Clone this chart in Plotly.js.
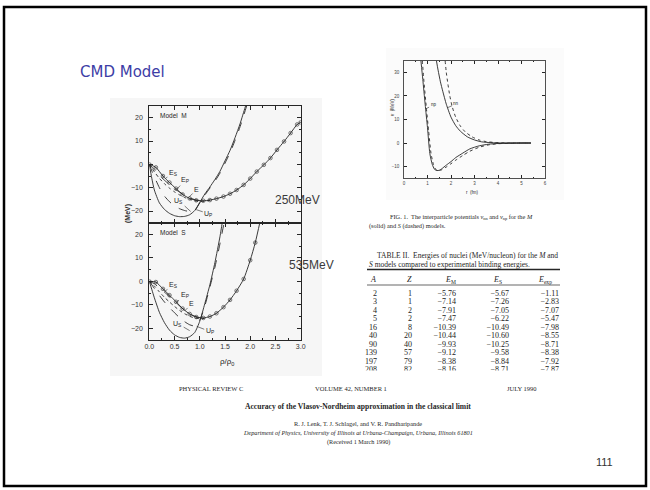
<!DOCTYPE html>
<html><head><meta charset="utf-8">
<script src="https://cdn.plot.ly/plotly-3.0.1.min.js"></script>
<style>body{margin:0;padding:0;background:#fff}#c{width:650px;height:490px}</style>
</head><body><div id="c"></div>
<script>
// ---------- Data: Model M (250 MeV) ----------
const rhoE_M = [0, 0.13, 0.27, 0.4, 0.53, 0.66, 0.8, 0.93, 1.07, 1.2, 1.33, 1.47, 1.6, 1.73, 1.87, 2.0, 2.13, 2.27, 2.4, 2.53, 2.67, 2.8, 2.93, 3.0];
const E_M     = [0, -1.3, -5.0, -7.8, -10.4, -12.9, -14.6, -15.4, -15.6, -15.3, -14.7, -13.8, -12.6, -11.0, -8.8, -6.1, -3.1, -0.2, 2.7, 6.2, 9.8, 13.4, 17.1, 18.0];
const rhoEa_M = [0, 0.1, 0.2, 0.3, 0.4, 0.5, 0.6, 0.7, 0.8, 0.9, 1.0, 1.1, 1.2];
const ES_M    = [0, -2.3, -4.7, -6.8, -8.7, -10.4, -11.9, -13.2, -14.3, -15.1, -15.5, -15.6, -15.3];
const EP_M    = [0, -3.2, -6.0, -8.3, -10.2, -11.8, -13.1, -14.2, -15.0, -15.6, -15.9, -15.8, -15.4];
const rhoU_M  = [0, 0.05, 0.1, 0.2, 0.3, 0.4, 0.5, 0.6, 0.7, 0.8, 0.9, 1.0, 1.1, 1.2, 1.3, 1.4, 1.5, 1.6, 1.7, 1.8, 1.9, 1.95];
const US_M    = [0, -6.0, -11.0, -16.5, -19.3, -21.0, -22.0, -22.4, -22.3, -21.6, -19.8, -16.3, -12.7, -9.7, -6.5, -3.0, 1.5, 6.0, 11.5, 17.5, 24.5, 28];
const UP_M    = [0, -2.8, -5.3, -10.0, -13.6, -16.0, -17.8, -19.0, -19.8, -20.2, -19.8, -16.5, -13.2, -10.2, -7.2, -3.8, 0.5, 5.0, 10.3, 16.2, 23.0, 26.5];
// ---------- Data: Model S (535 MeV) ----------
const rhoE_S  = [0, 0.13, 0.27, 0.4, 0.53, 0.66, 0.8, 0.93, 1.07, 1.2, 1.33, 1.47, 1.6, 1.73, 1.87, 2.0, 2.1, 2.2];
const E_S     = [0, -0.3, -3.2, -5.9, -8.7, -11.6, -13.9, -15.2, -15.6, -15.0, -13.6, -11.0, -7.9, -4.0, 1.0, 9.0, 16.5, 26];
const rhoEa_S = [0, 0.1, 0.2, 0.3, 0.4, 0.5, 0.6, 0.7, 0.8, 0.9, 1.0, 1.1];
const ES_S    = [0, -1.0, -2.8, -4.6, -6.5, -8.5, -10.5, -12.3, -13.8, -14.9, -15.5, -15.6];
const EP_S    = [0, -2.0, -4.5, -6.8, -8.8, -10.7, -12.4, -13.8, -14.9, -15.6, -15.9, -15.8];
const rhoU_S  = [0, 0.05, 0.1, 0.2, 0.3, 0.4, 0.5, 0.6, 0.7, 0.8, 0.9, 1.0, 1.1, 1.2, 1.3, 1.4, 1.45, 1.5];
const US_S    = [0, -3.5, -7.0, -13.2, -17.6, -20.8, -22.8, -23.9, -24.2, -23.6, -21.8, -17.0, -9.5, -1.5, 8.0, 19.0, 25.5, 30];
const UP_S    = [0, -1.5, -3.0, -6.0, -8.8, -11.2, -13.4, -15.5, -17.2, -18.5, -19.0, -16.5, -10.5, -2.5, 6.0, 16.0, 21.5, 27];
// ---------- Data: interparticle potentials ----------
const r_npM = [0.72, 0.8, 0.9, 1.0, 1.1, 1.2, 1.3, 1.4, 1.5, 1.6, 1.8, 2.0, 2.2, 2.5, 2.8, 3.2, 3.6, 4.0, 4.5, 5.0, 5.4];
const v_npM = [35, 27, 16.5, 6.5, -4.5, -9.0, -11.2, -11.7, -11.6, -11.0, -9.4, -7.9, -6.2, -4.3, -2.5, -1.2, -0.5, -0.2, -0.05, 0, 0];
const r_npS = [0.78, 0.85, 0.95, 1.05, 1.15, 1.25, 1.35, 1.45, 1.6, 1.8, 2.0, 2.2, 2.5, 2.8, 3.2, 3.6, 4.0, 4.5, 5.0, 5.4];
const v_npS = [35, 26, 15, 5, -4.5, -9.0, -11.2, -11.7, -11.4, -10.2, -8.8, -7.3, -5.3, -3.5, -1.8, -0.8, -0.3, -0.1, 0, 0];
const r_nnM = [1.38, 1.45, 1.55, 1.65, 1.8, 2.0, 2.2, 2.4, 2.7, 3.0, 3.3, 3.7, 4.2, 5.4];
const v_nnM = [35, 31, 26, 22, 16.5, 11, 7.4, 5.0, 2.6, 1.3, 0.5, 0.15, 0, 0];
const r_nnS = [1.75, 1.8, 1.87, 1.95, 2.05, 2.2, 2.4, 2.6, 2.9, 3.2, 3.5, 3.9, 4.4, 5.4];
const v_nnS = [35, 30, 25, 20, 15.5, 11, 7.2, 4.8, 2.6, 1.3, 0.6, 0.2, 0, 0];
// ---------- Data: Table II ----------
const tabA   = ['2','3','4','5','16','40','90','139','197','208'];
const tabZ   = ['1','1','2','2','8','20','40','57','79','82'];
const tabEM  = ['\u22125.76','\u22127.14','\u22127.91','\u22127.47','\u221210.39','\u221210.44','\u22129.93','\u22129.12','\u22128.38','\u22128.16'];
const tabES  = ['\u22125.67','\u22127.26','\u22127.05','\u22126.22','\u221210.49','\u221210.60','\u221210.25','\u22129.58','\u22128.84','\u22128.71'];
const tabEx  = ['\u22121.11','\u22122.83','\u22127.07','\u22125.47','\u22127.98','\u22128.55','\u22128.71','\u22128.38','\u22127.92','\u22127.87'];
const tabHead = ['<i>A</i>','<i>Z</i>','<i>E</i><sub>M</sub>','<i>E</i><sub>S</sub>','<i>E</i><sub>exp</sub>'];

// ---------- layout helpers ----------
const W = 650, H = 490;
const X = p => p / W, Y = p => 1 - p / H;
const SANS = 'Liberation Sans, Arial, sans-serif';
const SERIF = 'Liberation Serif, Times New Roman, serif';
const INK = '#262626';

function line(x, y, xa, ya, dash, extra) {
  return Object.assign({x: x, y: y, xaxis: xa, yaxis: ya, mode: 'lines', type: 'scatter',
    line: {color: INK, width: 0.9, dash: dash, shape: 'spline', smoothing: 0.6}, hoverinfo: 'skip', showlegend: false}, extra || {});
}
const mk = {mode: 'lines+markers', marker: {symbol: 'circle-open-dot', size: 3.6, color: INK, line: {width: 0.6, color: INK}}};

const traces = [
  line(rhoU_M, UP_M, 'x', 'y', 'dash'),
  line(rhoU_M, US_M, 'x', 'y', 'solid'),
  line(rhoEa_M, EP_M, 'x', 'y', 'dot'),
  line(rhoEa_M, ES_M, 'x', 'y', 'dash'),
  line(rhoE_M, E_M, 'x', 'y', 'solid', mk),
  line(rhoU_S, UP_S, 'x2', 'y2', 'dash'),
  line(rhoU_S, US_S, 'x2', 'y2', 'solid'),
  line(rhoEa_S, EP_S, 'x2', 'y2', 'dot'),
  line(rhoEa_S, ES_S, 'x2', 'y2', 'dash'),
  line(rhoE_S, E_S, 'x2', 'y2', 'solid', mk),
  line(r_npM, v_npM, 'x3', 'y3', 'solid'),
  line(r_npS, v_npS, 'x3', 'y3', 'dot'),
  line(r_nnM, v_nnM, 'x3', 'y3', 'solid'),
  line(r_nnS, v_nnS, 'x3', 'y3', 'dot'),
];

// table columns (right edges / header centres, px) — positions only
const colRight = [377, 412, 456, 509, 559];
const colHead = [373, 409, 450, 497, 545];
[tabA, tabZ, tabEM, tabES, tabEx].forEach((col, j) => {
  traces.push({type: 'scatter', mode: 'text', xaxis: 'x4', yaxis: 'y4',
    x: col.map(() => colRight[j]), y: col.map((_, i) => i),
    text: col.map(v => '<span style="color:#222">' + v + '</span>'),
    textposition: 'middle left', cliponaxis: true, marker: {color: '#222'},
    textfont: {family: SERIF, size: 8, color: '#222'}, hoverinfo: 'skip', showlegend: false});
});

const frameAxis = {showline: true, mirror: 'ticks', linecolor: INK, linewidth: 1, ticks: 'inside',
  tickcolor: INK, showgrid: false, zeroline: false, fixedrange: true};
const leftX = Object.assign({}, frameAxis, {domain: [X(149.3), X(300.7)], range: [0, 3], dtick: 0.5, tick0: 0, ticklen: 4,
  minor: {ticks: 'inside', dtick: 0.25, ticklen: 2, tickcolor: INK}, tickformat: '.1f',
  tickfont: {family: SANS, size: 7, color: '#333'}});
const leftY = Object.assign({}, frameAxis, {range: [-25, 25], tickvals: [-20, -10, 0, 10, 20], ticklen: 4,
  minor: {ticks: 'inside', dtick: 5, ticklen: 2, tickcolor: INK}, ticklabelstandoff: 4,
  tickfont: {family: SANS, size: 7, color: '#333'}});

const layout = {
  width: W, height: H, margin: {l: 0, r: 0, t: 0, b: 0}, paper_bgcolor: '#fff', plot_bgcolor: 'rgba(0,0,0,0)',
  showlegend: false,
  xaxis: Object.assign({}, leftX, {anchor: 'y', showticklabels: false}),
  yaxis: Object.assign({}, leftY, {domain: [Y(222.7), Y(106)], anchor: 'x'}),
  xaxis2: Object.assign({}, leftX, {anchor: 'y2'}),
  yaxis2: Object.assign({}, leftY, {domain: [Y(340), Y(222.7)], anchor: 'x2'}),
  xaxis3: Object.assign({}, frameAxis, {domain: [X(404), X(545)], range: [0, 6], dtick: 1, ticklen: 3, anchor: 'y3',
    minor: {ticks: 'inside', dtick: 0.5, ticklen: 1.5, tickcolor: INK}, linewidth: 0.8,
    tickfont: {family: SANS, size: 4.5, color: '#444'}}),
  yaxis3: Object.assign({}, frameAxis, {domain: [Y(178.3), Y(60.7)], range: [-15, 35], tickvals: [-10, 0, 10, 20, 30],
    ticklen: 3, anchor: 'x3', linewidth: 0.8, ticklabelstandoff: 3,
    tickfont: {family: SANS, size: 4.5, color: '#444'}}),
  xaxis4: {domain: [X(360), X(562)], range: [360, 562], visible: false, anchor: 'y4', fixedrange: true},
  yaxis4: {domain: [Y(373.5), Y(288)], range: [9.357, -0.643], visible: false, anchor: 'x4', fixedrange: true},
  shapes: [
    {type: 'rect', xref: 'paper', yref: 'paper', x0: X(110), x1: X(322), y0: Y(376), y1: Y(98), fillcolor: '#f6f6f6', line: {width: 0}, layer: 'below'},
    {type: 'rect', xref: 'paper', yref: 'paper', x0: X(386), x1: X(564), y0: Y(200), y1: Y(48), fillcolor: '#fbfbfb', line: {width: 0}, layer: 'below'},
    // the pasted paper-header clipping the last table row
    {type: 'rect', xref: 'paper', yref: 'paper', x0: X(355), x1: X(570), y0: Y(381), y1: Y(370.5), fillcolor: '#fff', line: {width: 0}, layer: 'above'},
    {type: 'rect', xref: 'paper', yref: 'paper', x0: X(4), x1: X(646), y0: Y(486), y1: Y(7), line: {color: '#000', width: 2.5}},
    {type: 'line', xref: 'paper', yref: 'paper', x0: X(367), x1: X(560), y0: Y(269.5), y1: Y(269.5), line: {color: INK, width: 1.6}},
    {type: 'line', xref: 'paper', yref: 'paper', x0: X(367), x1: X(560), y0: Y(285), y1: Y(285), line: {color: INK, width: 0.7}},
  ],
  annotations: []
};

const A = layout.annotations;
function txt(text, x, y, size, opts) {
  A.push(Object.assign({text: text, xref: 'paper', yref: 'paper', x: X(x), y: Y(y), showarrow: false,
    xanchor: 'center', yanchor: 'middle', font: {family: SANS, size: size, color: INK}}, opts || {}));
}
function lbl(text, xa, ya, x, y, ax, ay, size) {
  A.push({text: text, xref: xa, yref: ya, x: x, y: y, ax: ax, ay: ay, showarrow: true, arrowhead: 0,
    arrowwidth: 0.6, arrowcolor: INK, standoff: 0, font: {family: SANS, size: size || 7, color: INK}});
}

txt('CMD Model', 78, 72, 15, {xanchor: 'left', font: {family: 'DejaVu Sans, sans-serif', size: 15, color: '#3d3da6'}});
txt('250MeV', 273, 200, 12, {xanchor: 'left', font: {family: SANS, size: 12, color: '#3a3a3a'}});
txt('535MeV', 287, 265, 12, {xanchor: 'left', font: {family: SANS, size: 12, color: '#3a3a3a'}});
txt('Model  M', 158, 115, 6.5, {xanchor: 'left'});
txt('Model  S', 158, 233, 6.5, {xanchor: 'left'});
txt('<b>(MeV)</b>', 128, 214, 7, {textangle: -90});
txt('\u03c1/\u03c1<sub>0</sub>', 227, 362, 8);
txt('v  (MeV)', 393, 107, 4.5, {textangle: -90});
txt('r  (fm)', 472, 192, 4.5);

// curve labels Model M
lbl('E<sub>S</sub>', 'x', 'y', 0.32, -6.0, 8, -5);
lbl('E<sub>P</sub>', 'x', 'y', 0.55, -10.6, 8, -9);
lbl('E', 'x', 'y', 0.78, -14.2, 8, -8);
lbl('U<sub>S</sub>', 'x', 'y', 0.82, -20.2, -12, -11);
lbl('U<sub>P</sub>', 'x', 'y', 0.93, -19.4, 12, 4);
// curve labels Model S
lbl('E<sub>S</sub>', 'x2', 'y2', 0.3, -4.3, 9, -6);
lbl('E<sub>P</sub>', 'x2', 'y2', 0.52, -9.3, 9, -8);
lbl('E', 'x2', 'y2', 0.7, -12.6, 7, -7);
lbl('U<sub>S</sub>', 'x2', 'y2', 0.8, -21.0, -12, -7);
lbl('U<sub>P</sub>', 'x2', 'y2', 0.94, -19.2, 13, 5);
// potential labels
lbl('np', 'x3', 'y3', 0.92, 14.5, 8, -4, 4.5);
lbl('nn', 'x3', 'y3', 1.85, 15.0, 9, -4, 4.5);

// captions
txt('FIG. 1.  The interparticle potentials <i>v</i><sub>nn</sub> and <i>v</i><sub>np</sub> for the <i>M</i>', 388, 217, 6.3, {xanchor: 'left', font: {family: SERIF, size: 6.3, color: INK}});
txt('(solid) and <i>S</i> (dashed) models.', 367, 226, 6.3, {xanchor: 'left', font: {family: SERIF, size: 6.3, color: INK}});
txt('TABLE II.  Energies of nuclei (MeV/nucleon) for the <i>M</i> and', 375, 255, 7.5, {xanchor: 'left', font: {family: SERIF, size: 7.5, color: INK}});
txt('<i>S</i> models compared to experimental binding energies.', 367, 264, 7.5, {xanchor: 'left', font: {family: SERIF, size: 7.5, color: INK}});
tabHead.forEach((h, j) => txt(h, colHead[j], 279.5, 8, {font: {family: SERIF, size: 8, color: INK}}));

// paper header
txt('PHYSICAL REVIEW C', 211, 388, 6.5, {font: {family: SERIF, size: 6.5, color: INK}});
txt('VOLUME 42, NUMBER 1', 351, 388, 6.5, {font: {family: SERIF, size: 6.5, color: INK}});
txt('JULY 1990', 522, 388, 6.5, {font: {family: SERIF, size: 6.5, color: INK}});
txt('<b>Accuracy of the Vlasov-Nordheim approximation in the classical limit</b>', 357.5, 406, 7.6, {font: {family: SERIF, size: 7.6, color: INK}});
txt('R. J. Lenk, T. J. Schlagel, and V. R. Pandharipande', 358, 423, 6.3, {font: {family: SERIF, size: 6.3, color: INK}});
txt('<i>Department of Physics, University of Illinois at Urbana-Champaign, Urbana, Illinois 61801</i>', 358, 432.5, 6.2, {font: {family: SERIF, size: 6.2, color: INK}});
txt('(Received 1 March 1990)', 358, 441.5, 6.2, {font: {family: SERIF, size: 6.2, color: INK}});
txt('111', 604, 462, 11, {font: {family: SANS, size: 11, color: '#333'}});

Plotly.newPlot('c', traces, layout, {staticPlot: true, displayModeBar: false});
</script>
</body></html>
